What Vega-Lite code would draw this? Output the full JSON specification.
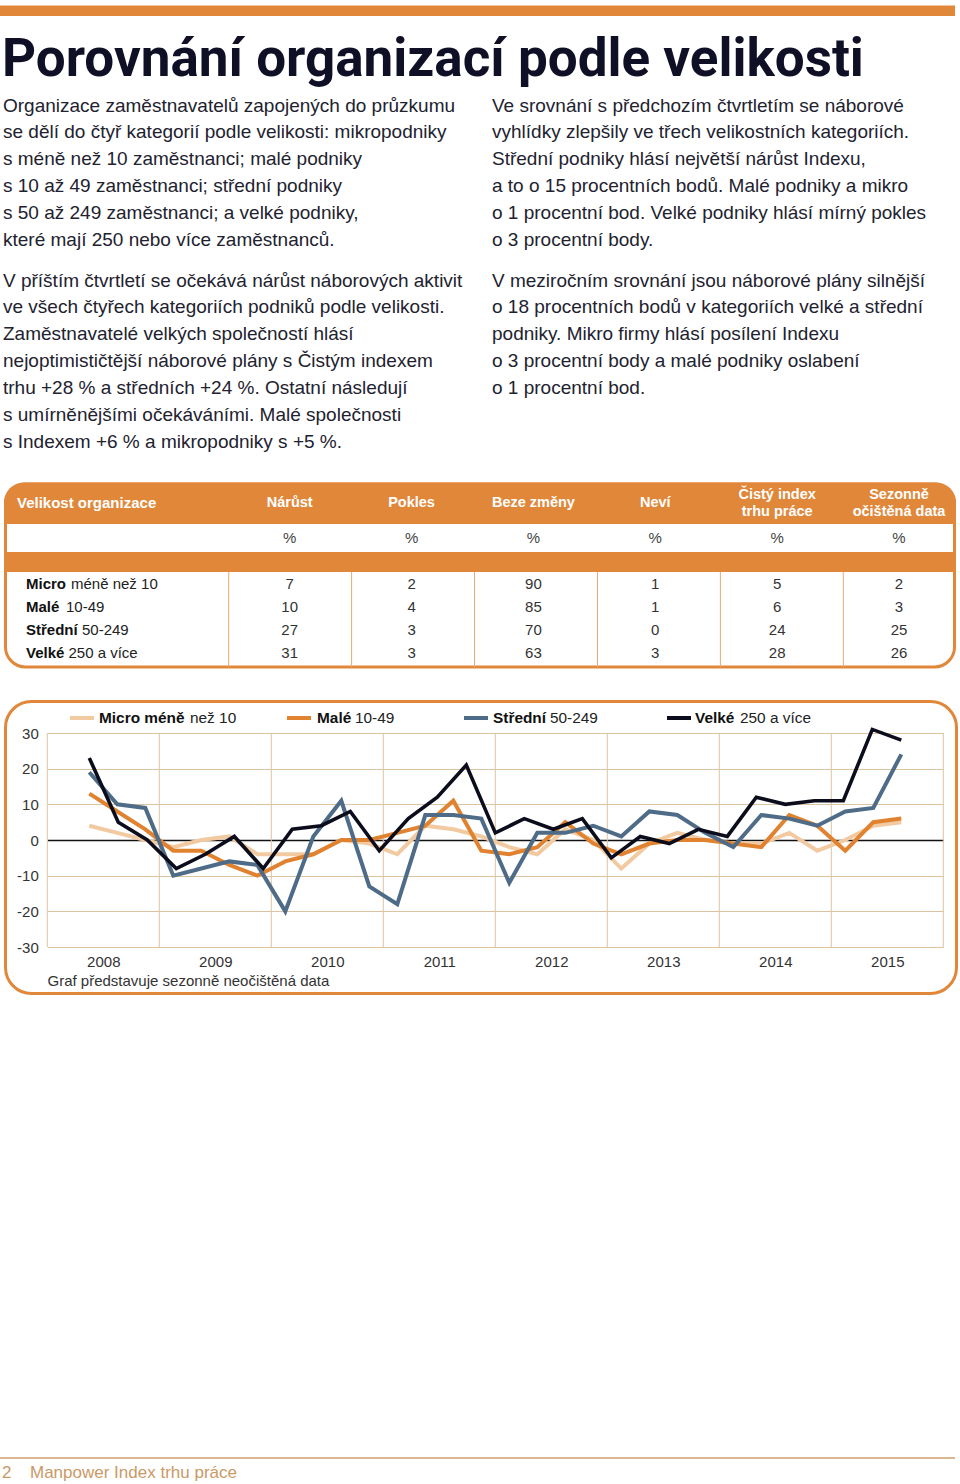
{
"$schema":"https://vega.github.io/schema/vega-lite/v6.json",
"width":960,"height":1484,"autosize":{"type":"none"},"padding":0,"background":"#ffffff",
"config":{"view":{"stroke":null},"font":"Liberation Sans"},
"datasets":{
"one":[{}],
"texts":[{"id":"title","t":"Porovnání organizací podle velikosti"},{"id":"th","t":"Velikost organizace"},{"id":"pg","t":"2"},{"id":"foot","t":"Manpower Index trhu práce"}],
"paras":[
{"col":"L","para":"1","text":"Organizace zaměstnavatelů zapojených do průzkumu\nse dělí do čtyř kategorií podle velikosti: mikropodniky\ns méně než 10 zaměstnanci; malé podniky\ns 10 až 49 zaměstnanci; střední podniky\ns 50 až 249 zaměstnanci; a velké podniky,\nkteré mají 250 nebo více zaměstnanců."},
{"col":"L","para":"2","text":"V příštím čtvrtletí se očekává nárůst náborových aktivit\nve všech čtyřech kategoriích podniků podle velikosti.\nZaměstnavatelé velkých společností hlásí\nnejoptimističtější náborové plány s Čistým indexem\ntrhu +28 % a středních +24 %. Ostatní následují\ns umírněnějšími očekáváními. Malé společnosti\ns Indexem +6 % a mikropodniky s +5 %."},
{"col":"R","para":"1","text":"Ve srovnání s předchozím čtvrtletím se náborové\nvyhlídky zlepšily ve třech velikostních kategoriích.\nStřední podniky hlásí největší nárůst Indexu,\na to o 15 procentních bodů. Malé podniky a mikro\no 1 procentní bod. Velké podniky hlásí mírný pokles\no 3 procentní body."},
{"col":"R","para":"2","text":"V meziročním srovnání jsou náborové plány silnější\no 18 procentních bodů v kategoriích velké a střední\npodniky. Mikro firmy hlásí posílení Indexu\no 3 procentní body a malé podniky oslabení\no 1 procentní bod."}],
"headers":[{"col":"Nárůst","label":"Nárůst","unit":"%"},{"col":"Pokles","label":"Pokles","unit":"%"},{"col":"Beze změny","label":"Beze změny","unit":"%"},{"col":"Neví","label":"Neví","unit":"%"},{"col":"Čistý index trhu práce","label":"Čistý index\ntrhu práce","unit":"%"},{"col":"Sezonně očištěná data","label":"Sezonně\nočištěná data","unit":"%"}],
"sizes":[{"size":"Micro","bold":"Micro","rest":"méně než 10"},{"size":"Malé","bold":"Malé","rest":"10-49"},{"size":"Střední","bold":"Střední","rest":"50-249"},{"size":"Velké","bold":"Velké","rest":"250 a více"}],
"table":[
{"size":"Micro","col":"Nárůst","v":7},{"size":"Micro","col":"Pokles","v":2},{"size":"Micro","col":"Beze změny","v":90},{"size":"Micro","col":"Neví","v":1},{"size":"Micro","col":"Čistý index trhu práce","v":5},{"size":"Micro","col":"Sezonně očištěná data","v":2},
{"size":"Malé","col":"Nárůst","v":10},{"size":"Malé","col":"Pokles","v":4},{"size":"Malé","col":"Beze změny","v":85},{"size":"Malé","col":"Neví","v":1},{"size":"Malé","col":"Čistý index trhu práce","v":6},{"size":"Malé","col":"Sezonně očištěná data","v":3},
{"size":"Střední","col":"Nárůst","v":27},{"size":"Střední","col":"Pokles","v":3},{"size":"Střední","col":"Beze změny","v":70},{"size":"Střední","col":"Neví","v":0},{"size":"Střední","col":"Čistý index trhu práce","v":24},{"size":"Střední","col":"Sezonně očištěná data","v":25},
{"size":"Velké","col":"Nárůst","v":31},{"size":"Velké","col":"Pokles","v":3},{"size":"Velké","col":"Beze změny","v":63},{"size":"Velké","col":"Neví","v":3},{"size":"Velké","col":"Čistý index trhu práce","v":28},{"size":"Velké","col":"Sezonně očištěná data","v":26}],
"legend":[{"series":"Micro","bold":"Micro méně","rest":"než 10"},{"series":"Malé","bold":"Malé","rest":"10-49"},{"series":"Střední","bold":"Střední","rest":"50-249"},{"series":"Velké","bold":"Velké","rest":"250 a více"}],
"years":[{"year":2008},{"year":2009},{"year":2010},{"year":2011},{"year":2012},{"year":2013},{"year":2014},{"year":2015},{"year":2016}],
"lines":[
{"series":"Micro","i":0,"v":4},{"series":"Micro","i":1,"v":2},{"series":"Micro","i":2,"v":0},{"series":"Micro","i":3,"v":-2},{"series":"Micro","i":4,"v":0},{"series":"Micro","i":5,"v":1},{"series":"Micro","i":6,"v":-4},{"series":"Micro","i":7,"v":-4},{"series":"Micro","i":8,"v":-4},{"series":"Micro","i":9,"v":0},{"series":"Micro","i":10,"v":-1},{"series":"Micro","i":11,"v":-4},{"series":"Micro","i":12,"v":4},{"series":"Micro","i":13,"v":3},{"series":"Micro","i":14,"v":1},{"series":"Micro","i":15,"v":-2},{"series":"Micro","i":16,"v":-4},{"series":"Micro","i":17,"v":3},{"series":"Micro","i":18,"v":0},{"series":"Micro","i":19,"v":-8},{"series":"Micro","i":20,"v":-1},{"series":"Micro","i":21,"v":2},{"series":"Micro","i":22,"v":0},{"series":"Micro","i":23,"v":-1},{"series":"Micro","i":24,"v":-1},{"series":"Micro","i":25,"v":2},{"series":"Micro","i":26,"v":-3},{"series":"Micro","i":27,"v":0},{"series":"Micro","i":28,"v":4},{"series":"Micro","i":29,"v":5},
{"series":"Malé","i":0,"v":13},{"series":"Malé","i":1,"v":8},{"series":"Malé","i":2,"v":3},{"series":"Malé","i":3,"v":-3},{"series":"Malé","i":4,"v":-3},{"series":"Malé","i":5,"v":-7},{"series":"Malé","i":6,"v":-10},{"series":"Malé","i":7,"v":-6},{"series":"Malé","i":8,"v":-4},{"series":"Malé","i":9,"v":0},{"series":"Malé","i":10,"v":0},{"series":"Malé","i":11,"v":2},{"series":"Malé","i":12,"v":4},{"series":"Malé","i":13,"v":11},{"series":"Malé","i":14,"v":-3},{"series":"Malé","i":15,"v":-4},{"series":"Malé","i":16,"v":-2},{"series":"Malé","i":17,"v":5},{"series":"Malé","i":18,"v":-1},{"series":"Malé","i":19,"v":-4},{"series":"Malé","i":20,"v":-1},{"series":"Malé","i":21,"v":0},{"series":"Malé","i":22,"v":0},{"series":"Malé","i":23,"v":-1},{"series":"Malé","i":24,"v":-2},{"series":"Malé","i":25,"v":7},{"series":"Malé","i":26,"v":4},{"series":"Malé","i":27,"v":-3},{"series":"Malé","i":28,"v":5},{"series":"Malé","i":29,"v":6},
{"series":"Střední","i":0,"v":19},{"series":"Střední","i":1,"v":10},{"series":"Střední","i":2,"v":9},{"series":"Střední","i":3,"v":-10},{"series":"Střední","i":4,"v":-8},{"series":"Střední","i":5,"v":-6},{"series":"Střední","i":6,"v":-7},{"series":"Střední","i":7,"v":-20},{"series":"Střední","i":8,"v":1},{"series":"Střední","i":9,"v":11},{"series":"Střední","i":10,"v":-13},{"series":"Střední","i":11,"v":-18},{"series":"Střední","i":12,"v":7},{"series":"Střední","i":13,"v":7},{"series":"Střední","i":14,"v":6},{"series":"Střední","i":15,"v":-12},{"series":"Střední","i":16,"v":2},{"series":"Střední","i":17,"v":2},{"series":"Střední","i":18,"v":4},{"series":"Střední","i":19,"v":1},{"series":"Střední","i":20,"v":8},{"series":"Střední","i":21,"v":7},{"series":"Střední","i":22,"v":2},{"series":"Střední","i":23,"v":-2},{"series":"Střední","i":24,"v":7},{"series":"Střední","i":25,"v":6},{"series":"Střední","i":26,"v":4},{"series":"Střední","i":27,"v":8},{"series":"Střední","i":28,"v":9},{"series":"Střední","i":29,"v":24}],
"velke":[
{"series":"Velké","i":0,"v":23},{"series":"Velké","i":1,"v":5},{"series":"Velké","i":2,"v":0},{"series":"Velké","i":3,"v":-8},{"series":"Velké","i":4,"v":-4},{"series":"Velké","i":5,"v":1},{"series":"Velké","i":6,"v":-8},{"series":"Velké","i":7,"v":3},{"series":"Velké","i":8,"v":4},{"series":"Velké","i":9,"v":8},{"series":"Velké","i":10,"v":-3},{"series":"Velké","i":11,"v":6},{"series":"Velké","i":12,"v":12},{"series":"Velké","i":13,"v":21},{"series":"Velké","i":14,"v":2},{"series":"Velké","i":15,"v":6},{"series":"Velké","i":16,"v":3},{"series":"Velké","i":17,"v":6},{"series":"Velké","i":18,"v":-5},{"series":"Velké","i":19,"v":1},{"series":"Velké","i":20,"v":-1},{"series":"Velké","i":21,"v":3},{"series":"Velké","i":22,"v":1},{"series":"Velké","i":23,"v":12},{"series":"Velké","i":24,"v":10},{"series":"Velké","i":25,"v":11},{"series":"Velké","i":26,"v":11},{"series":"Velké","i":27,"v":31},{"series":"Velké","i":28,"v":28}]
},
"resolve":{"scale":{"x":"independent","y":"independent"}},
"layer":[
{"data":{"name":"one"},
 "layer":[
  {"mark":{"type":"rect","color":"#e1873a"},"encoding":{"x":{"datum":0,"scale":{"domain":[0,960],"range":[0,960],"nice":false,"zero":false},"axis":null},"x2":{"datum":955},"y":{"datum":5.5,"scale":{"domain":[0,1484],"range":[0,1484],"nice":false,"zero":false},"axis":null},"y2":{"datum":16}}},
  {"mark":{"type":"rect","fill":"#ffffff","stroke":"#e1873a","strokeWidth":3,"cornerRadius":20},"encoding":{"x":{"datum":5.5,"scale":{"domain":[0,960],"range":[0,960],"nice":false,"zero":false},"axis":null},"x2":{"datum":954.5},"y":{"datum":484,"scale":{"domain":[0,1484],"range":[0,1484],"nice":false,"zero":false},"axis":null},"y2":{"datum":667}}},
  {"mark":{"type":"rect","color":"#e1873a","cornerRadiusTopLeft":20,"cornerRadiusTopRight":20},"encoding":{"x":{"datum":4,"scale":{"domain":[0,960],"range":[0,960],"nice":false,"zero":false},"axis":null},"x2":{"datum":956},"y":{"datum":482.5,"scale":{"domain":[0,1484],"range":[0,1484],"nice":false,"zero":false},"axis":null},"y2":{"datum":524}}},
  {"mark":{"type":"rect","color":"#e1873a"},"encoding":{"x":{"datum":4,"scale":{"domain":[0,960],"range":[0,960],"nice":false,"zero":false},"axis":null},"x2":{"datum":956},"y":{"datum":552,"scale":{"domain":[0,1484],"range":[0,1484],"nice":false,"zero":false},"axis":null},"y2":{"datum":572}}},
  {"mark":{"type":"rect","filled":false,"stroke":"#e1873a","strokeWidth":3,"cornerRadius":26},"encoding":{"x":{"datum":5.5,"scale":{"domain":[0,960],"range":[0,960],"nice":false,"zero":false},"axis":null},"x2":{"datum":956.5},"y":{"datum":701.5,"scale":{"domain":[0,1484],"range":[0,1484],"nice":false,"zero":false},"axis":null},"y2":{"datum":993.5}}},
  {"mark":{"type":"rule","color":"#dab792","strokeWidth":2},"encoding":{"x":{"datum":0,"scale":{"domain":[0,960],"range":[0,960],"nice":false,"zero":false},"axis":null},"x2":{"datum":955},"y":{"datum":1458,"scale":{"domain":[0,1484],"range":[0,1484],"nice":false,"zero":false},"axis":null}}}
 ]},
{"data":{"name":"headers"},"mark":{"type":"rule","color":"#eaa86e","strokeWidth":1},
 "encoding":{"x":{"field":"col","type":"nominal","scale":{"type":"point","domain":["Nárůst","Pokles","Beze změny","Neví","Čistý index trhu práce","Sezonně očištěná data"],"range":[228.7,843.3],"padding":0},"axis":null},
  "y":{"datum":572,"scale":{"domain":[0,1484],"range":[0,1484],"nice":false,"zero":false},"axis":null},"y2":{"datum":667}}},
{"resolve":{"scale":{"x":"independent","y":"independent"}},
 "layer":[
  {"data":{"name":"years"},"mark":{"type":"rule","color":"#dcc3a2","strokeWidth":1},
   "encoding":{
    "x":{"field":"year","type":"quantitative","scale":{"domain":[2008,2016],"range":[47.3,943.3],"nice":false,"zero":false},
     "axis":{"orient":"bottom","offset":-537,"values":[2008.5,2009.5,2010.5,2011.5,2012.5,2013.5,2014.5,2015.5],"labelExpr":"'' + floor(datum.value)","labelFlush":false,"labelOverlap":false,"labelPadding":7,"labelFontSize":15,"labelColor":"#333333","labelFont":"Liberation Sans","grid":false,"ticks":false,"domain":false,
      "title":"Graf představuje sezonně neočištěná data","titleX":47,"titleY":33,"titleAlign":"left","titleAnchor":"start","titleBaseline":"middle","titleFontSize":15,"titleFontWeight":"normal","titleColor":"#333333","titleFont":"Liberation Sans"}},
    "y":{"datum":-30,"type":"quantitative","scale":{"domain":[-30,30],"range":[947,733],"nice":false,"zero":false},
     "axis":{"orient":"left","offset":-47.3,"values":[-30,-20,-10,0,10,20,30],"labelExpr":"'' + datum.value","labelPadding":9,"labelFontSize":15,"labelColor":"#333333","labelFont":"Liberation Sans","labelFlush":false,"labelOverlap":false,"grid":true,"gridColor":{"condition":{"test":"datum.value === 0","value":"#111111"},"value":"#dcc3a2"},"gridWidth":{"condition":{"test":"datum.value === 0","value":1.6},"value":1},"ticks":false,"domain":false,"title":null}},
    "y2":{"datum":30}}},
  {"data":{"name":"lines"},
   "encoding":{
    "x":{"field":"i","type":"quantitative","scale":{"domain":[-1.5,30.5],"range":[47.3,943.3],"nice":false,"zero":false},"axis":null},
    "y":{"field":"v","type":"quantitative","scale":{"domain":[-30,30],"range":[947,733],"nice":false,"zero":false},"axis":null},
    "color":{"field":"series","type":"nominal","scale":{"domain":["Micro","Malé","Střední","Velké"],"range":["#f2caa2","#e0822f","#4e6c87","#0c0d1c"]},"legend":null}},
   "layer":[
    {"transform":[{"filter":"datum.series === 'Micro'"}],"mark":{"type":"line","strokeWidth":4}},
    {"transform":[{"filter":"datum.series === 'Malé'"}],"mark":{"type":"line","strokeWidth":4}},
    {"transform":[{"filter":"datum.series === 'Střední'"}],"mark":{"type":"line","strokeWidth":4}}
   ]},
  {"data":{"name":"velke"},"mark":{"type":"line","strokeWidth":3.6},
   "encoding":{"x":{"field":"i","type":"quantitative","scale":{"domain":[-1.448,29.448],"range":[47.3,943.3],"nice":false,"zero":false},"axis":null},
    "y":{"field":"v","type":"quantitative","scale":{"domain":[-30,30],"range":[947,733],"nice":false,"zero":false},"axis":null},
    "color":{"field":"series","type":"nominal","scale":{"domain":["Micro","Malé","Střední","Velké"],"range":["#f2caa2","#e0822f","#4e6c87","#0c0d1c"]},"legend":null}}}
 ]},
{"data":{"name":"paras"},"mark":{"type":"text","align":"left","baseline":"alphabetic","lineBreak":"\n","lineHeight":26.9,"fontSize":19,"color":"#22222f"},
 "encoding":{"x":{"field":"col","type":"nominal","scale":{"type":"point","domain":["L","R"],"range":[3,492],"padding":0},"axis":null},
  "y":{"field":"para","type":"nominal","scale":{"type":"point","domain":["1","2"],"range":[111.5,286.5],"padding":0},"axis":null},
  "text":{"field":"text"}}},
{"data":{"name":"headers"},"transform":[{"filter":"indexof(datum.label, '\\n') < 0"}],"mark":{"type":"text","align":"center","baseline":"middle","fontSize":14.5,"fontWeight":"bold","color":"#ffffff"},
 "encoding":{"x":{"field":"col","type":"nominal","scale":{"type":"point","domain":["Nárůst","Pokles","Beze změny","Neví","Čistý index trhu práce","Sezonně očištěná data"],"range":[289.7,899],"padding":0},"axis":null},
  "y":{"datum":503,"scale":{"domain":[0,1484],"range":[0,1484],"nice":false,"zero":false},"axis":null},
  "text":{"field":"label"}}},
{"data":{"name":"headers"},"transform":[{"filter":"indexof(datum.label, '\\n') >= 0"}],"mark":{"type":"text","align":"center","baseline":"middle","lineBreak":"\n","lineHeight":17,"fontSize":14.5,"fontWeight":"bold","color":"#ffffff"},
 "encoding":{"x":{"field":"col","type":"nominal","scale":{"type":"point","domain":["Nárůst","Pokles","Beze změny","Neví","Čistý index trhu práce","Sezonně očištěná data"],"range":[289.7,899],"padding":0},"axis":null},
  "y":{"datum":494.5,"scale":{"domain":[0,1484],"range":[0,1484],"nice":false,"zero":false},"axis":null},
  "text":{"field":"label"}}},
{"data":{"name":"headers"},"mark":{"type":"text","align":"center","baseline":"middle","fontSize":15,"color":"#444444"},
 "encoding":{"x":{"field":"col","type":"nominal","scale":{"type":"point","domain":["Nárůst","Pokles","Beze změny","Neví","Čistý index trhu práce","Sezonně očištěná data"],"range":[289.7,899],"padding":0},"axis":null},
  "y":{"datum":538,"scale":{"domain":[0,1484],"range":[0,1484],"nice":false,"zero":false},"axis":null},
  "text":{"field":"unit"}}},
{"data":{"name":"table"},"mark":{"type":"text","align":"center","baseline":"middle","fontSize":15,"color":"#333333"},
 "encoding":{"x":{"field":"col","type":"nominal","scale":{"type":"point","domain":["Nárůst","Pokles","Beze změny","Neví","Čistý index trhu práce","Sezonně očištěná data"],"range":[289.7,899],"padding":0},"axis":null},
  "y":{"field":"size","type":"nominal","scale":{"type":"point","domain":["Micro","Malé","Střední","Velké"],"range":[584,653],"padding":0},"axis":null},
  "text":{"field":"v","type":"quantitative"}}},
{"data":{"name":"sizes"},"mark":{"type":"text","align":"left","baseline":"middle","fontSize":15,"fontWeight":"bold","color":"#111111"},
 "encoding":{"x":{"datum":26,"scale":{"domain":[0,960],"range":[0,960],"nice":false,"zero":false},"axis":null},
  "y":{"field":"size","type":"nominal","scale":{"type":"point","domain":["Micro","Malé","Střední","Velké"],"range":[584,653],"padding":0},"axis":null},
  "text":{"field":"bold"}}},
{"data":{"name":"sizes"},"transform":[{"filter":"datum.size === 'Micro'"}],"mark":{"type":"text","align":"left","baseline":"middle","fontSize":15,"color":"#222222"},
 "encoding":{"x":{"datum":71,"scale":{"domain":[0,960],"range":[0,960],"nice":false,"zero":false},"axis":null},
  "y":{"field":"size","type":"nominal","scale":{"type":"point","domain":["Micro","Malé","Střední","Velké"],"range":[584,653],"padding":0},"axis":null},"text":{"field":"rest"}}},
{"data":{"name":"sizes"},"transform":[{"filter":"datum.size === 'Malé'"}],"mark":{"type":"text","align":"left","baseline":"middle","fontSize":15,"color":"#222222"},
 "encoding":{"x":{"datum":66,"scale":{"domain":[0,960],"range":[0,960],"nice":false,"zero":false},"axis":null},
  "y":{"field":"size","type":"nominal","scale":{"type":"point","domain":["Micro","Malé","Střední","Velké"],"range":[584,653],"padding":0},"axis":null},"text":{"field":"rest"}}},
{"data":{"name":"sizes"},"transform":[{"filter":"datum.size === 'Střední'"}],"mark":{"type":"text","align":"left","baseline":"middle","fontSize":15,"color":"#222222"},
 "encoding":{"x":{"datum":82,"scale":{"domain":[0,960],"range":[0,960],"nice":false,"zero":false},"axis":null},
  "y":{"field":"size","type":"nominal","scale":{"type":"point","domain":["Micro","Malé","Střední","Velké"],"range":[584,653],"padding":0},"axis":null},"text":{"field":"rest"}}},
{"data":{"name":"sizes"},"transform":[{"filter":"datum.size === 'Velké'"}],"mark":{"type":"text","align":"left","baseline":"middle","fontSize":15,"color":"#222222"},
 "encoding":{"x":{"datum":68.5,"scale":{"domain":[0,960],"range":[0,960],"nice":false,"zero":false},"axis":null},
  "y":{"field":"size","type":"nominal","scale":{"type":"point","domain":["Micro","Malé","Střední","Velké"],"range":[584,653],"padding":0},"axis":null},"text":{"field":"rest"}}},
{"layer":[
  {"data":{"name":"texts"},"transform":[{"filter":"datum.id === 'title'"}],"mark":{"type":"text","align":"left","baseline":"alphabetic","font":"Roboto","fontWeight":"bold","fontSize":53,"color":"#0f0f26"},
   "encoding":{"x":{"datum":2,"scale":{"domain":[0,960],"range":[0,960],"nice":false,"zero":false},"axis":null},"y":{"datum":76,"scale":{"domain":[0,1484],"range":[0,1484],"nice":false,"zero":false},"axis":null},"text":{"field":"t"}}},
  {"data":{"name":"texts"},"transform":[{"filter":"datum.id === 'th'"}],"mark":{"type":"text","align":"left","baseline":"middle","fontWeight":"bold","fontSize":15,"color":"#ffffff"},
   "encoding":{"x":{"datum":17,"scale":{"domain":[0,960],"range":[0,960],"nice":false,"zero":false},"axis":null},"y":{"datum":503,"scale":{"domain":[0,1484],"range":[0,1484],"nice":false,"zero":false},"axis":null},"text":{"field":"t"}}},
  {"data":{"name":"texts"},"transform":[{"filter":"datum.id === 'pg'"}],"mark":{"type":"text","align":"left","baseline":"middle","fontSize":17,"color":"#c99a66"},
   "encoding":{"x":{"datum":2,"scale":{"domain":[0,960],"range":[0,960],"nice":false,"zero":false},"axis":null},"y":{"datum":1473,"scale":{"domain":[0,1484],"range":[0,1484],"nice":false,"zero":false},"axis":null},"text":{"field":"t"}}},
  {"data":{"name":"texts"},"transform":[{"filter":"datum.id === 'foot'"}],"mark":{"type":"text","align":"left","baseline":"middle","fontSize":17,"color":"#c99a66"},
   "encoding":{"x":{"datum":30,"scale":{"domain":[0,960],"range":[0,960],"nice":false,"zero":false},"axis":null},"y":{"datum":1473,"scale":{"domain":[0,1484],"range":[0,1484],"nice":false,"zero":false},"axis":null},"text":{"field":"t"}}},
  {"data":{"name":"legend"},"transform":[{"filter":"datum.series === 'Micro'"}],"layer":[
   {"mark":{"type":"rule","strokeWidth":4},"encoding":{"x":{"datum":70,"scale":{"domain":[0,960],"range":[0,960],"nice":false,"zero":false},"axis":null},"x2":{"datum":94},"y":{"datum":718,"scale":{"domain":[0,1484],"range":[0,1484],"nice":false,"zero":false},"axis":null},"color":{"field":"series","type":"nominal","scale":{"domain":["Micro","Malé","Střední","Velké"],"range":["#f2caa2","#e0822f","#4e6c87","#0c0d1c"]},"legend":null}}},
   {"mark":{"type":"text","align":"left","baseline":"middle","fontWeight":"bold","fontSize":15.4,"color":"#111111"},"encoding":{"x":{"datum":99,"scale":{"domain":[0,960],"range":[0,960],"nice":false,"zero":false},"axis":null},"y":{"datum":718,"scale":{"domain":[0,1484],"range":[0,1484],"nice":false,"zero":false},"axis":null},"text":{"field":"bold"}}},
   {"mark":{"type":"text","align":"left","baseline":"middle","fontSize":15.4,"color":"#222222"},"encoding":{"x":{"datum":190,"scale":{"domain":[0,960],"range":[0,960],"nice":false,"zero":false},"axis":null},"y":{"datum":718,"scale":{"domain":[0,1484],"range":[0,1484],"nice":false,"zero":false},"axis":null},"text":{"field":"rest"}}}]},
  {"data":{"name":"legend"},"transform":[{"filter":"datum.series === 'Malé'"}],"layer":[
   {"mark":{"type":"rule","strokeWidth":4},"encoding":{"x":{"datum":287,"scale":{"domain":[0,960],"range":[0,960],"nice":false,"zero":false},"axis":null},"x2":{"datum":311},"y":{"datum":718,"scale":{"domain":[0,1484],"range":[0,1484],"nice":false,"zero":false},"axis":null},"color":{"field":"series","type":"nominal","scale":{"domain":["Micro","Malé","Střední","Velké"],"range":["#f2caa2","#e0822f","#4e6c87","#0c0d1c"]},"legend":null}}},
   {"mark":{"type":"text","align":"left","baseline":"middle","fontWeight":"bold","fontSize":15.4,"color":"#111111"},"encoding":{"x":{"datum":317,"scale":{"domain":[0,960],"range":[0,960],"nice":false,"zero":false},"axis":null},"y":{"datum":718,"scale":{"domain":[0,1484],"range":[0,1484],"nice":false,"zero":false},"axis":null},"text":{"field":"bold"}}},
   {"mark":{"type":"text","align":"left","baseline":"middle","fontSize":15.4,"color":"#222222"},"encoding":{"x":{"datum":355,"scale":{"domain":[0,960],"range":[0,960],"nice":false,"zero":false},"axis":null},"y":{"datum":718,"scale":{"domain":[0,1484],"range":[0,1484],"nice":false,"zero":false},"axis":null},"text":{"field":"rest"}}}]},
  {"data":{"name":"legend"},"transform":[{"filter":"datum.series === 'Střední'"}],"layer":[
   {"mark":{"type":"rule","strokeWidth":4},"encoding":{"x":{"datum":464,"scale":{"domain":[0,960],"range":[0,960],"nice":false,"zero":false},"axis":null},"x2":{"datum":488},"y":{"datum":718,"scale":{"domain":[0,1484],"range":[0,1484],"nice":false,"zero":false},"axis":null},"color":{"field":"series","type":"nominal","scale":{"domain":["Micro","Malé","Střední","Velké"],"range":["#f2caa2","#e0822f","#4e6c87","#0c0d1c"]},"legend":null}}},
   {"mark":{"type":"text","align":"left","baseline":"middle","fontWeight":"bold","fontSize":15.4,"color":"#111111"},"encoding":{"x":{"datum":493,"scale":{"domain":[0,960],"range":[0,960],"nice":false,"zero":false},"axis":null},"y":{"datum":718,"scale":{"domain":[0,1484],"range":[0,1484],"nice":false,"zero":false},"axis":null},"text":{"field":"bold"}}},
   {"mark":{"type":"text","align":"left","baseline":"middle","fontSize":15.4,"color":"#222222"},"encoding":{"x":{"datum":550,"scale":{"domain":[0,960],"range":[0,960],"nice":false,"zero":false},"axis":null},"y":{"datum":718,"scale":{"domain":[0,1484],"range":[0,1484],"nice":false,"zero":false},"axis":null},"text":{"field":"rest"}}}]},
  {"data":{"name":"legend"},"transform":[{"filter":"datum.series === 'Velké'"}],"layer":[
   {"mark":{"type":"rule","strokeWidth":4},"encoding":{"x":{"datum":667,"scale":{"domain":[0,960],"range":[0,960],"nice":false,"zero":false},"axis":null},"x2":{"datum":691},"y":{"datum":718,"scale":{"domain":[0,1484],"range":[0,1484],"nice":false,"zero":false},"axis":null},"color":{"field":"series","type":"nominal","scale":{"domain":["Micro","Malé","Střední","Velké"],"range":["#f2caa2","#e0822f","#4e6c87","#0c0d1c"]},"legend":null}}},
   {"mark":{"type":"text","align":"left","baseline":"middle","fontWeight":"bold","fontSize":15.4,"color":"#111111"},"encoding":{"x":{"datum":695,"scale":{"domain":[0,960],"range":[0,960],"nice":false,"zero":false},"axis":null},"y":{"datum":718,"scale":{"domain":[0,1484],"range":[0,1484],"nice":false,"zero":false},"axis":null},"text":{"field":"bold"}}},
   {"mark":{"type":"text","align":"left","baseline":"middle","fontSize":15.4,"color":"#222222"},"encoding":{"x":{"datum":740,"scale":{"domain":[0,960],"range":[0,960],"nice":false,"zero":false},"axis":null},"y":{"datum":718,"scale":{"domain":[0,1484],"range":[0,1484],"nice":false,"zero":false},"axis":null},"text":{"field":"rest"}}}]}
 ]}
]
}
